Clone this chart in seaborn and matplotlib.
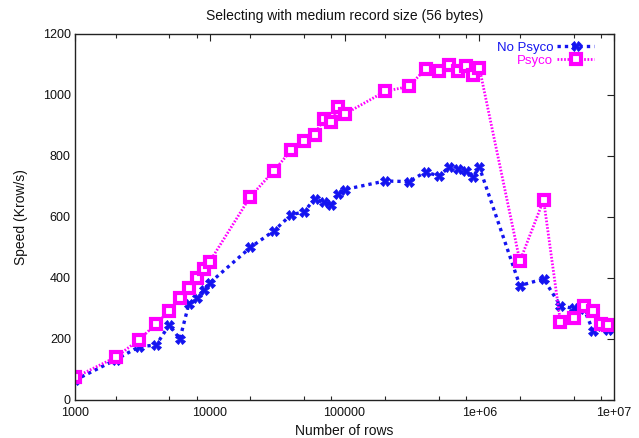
import numpy as np
import pandas as pd
import matplotlib
matplotlib.use("Agg")
import matplotlib.pyplot as plt
import matplotlib.ticker as mticker
import seaborn as sns

rows = [1000, 2000, 3000, 4000, 5000, 6000, 7000, 8000, 9000,
        10000, 20000, 30000, 40000, 50000, 60000, 70000, 80000, 90000,
        100000, 200000, 300000, 400000, 500000, 600000, 700000, 800000, 900000,
        1000000, 2000000, 3000000, 4000000, 5000000, 6000000, 7000000, 8000000, 9000000]

no_psyco = [65, 132, 175, 180, 246, 200, 316, 333, 360,
            384, 500, 555, 607, 617, 659, 648, 640, 676,
            690, 718, 716, 748, 734, 764, 756, 752, 732,
            764, 375, 397, 309, 300, 297, 226, 244, 228]

psyco = [74, 140, 198, 250, 293, 333, 368, 400, 428,
         454, 667, 752, 818, 848, 870, 921, 912, 959,
         937, 1012, 1028, 1086, 1078, 1098, 1080, 1094, 1066,
         1090, 455, 656, 255, 269, 307, 291, 250, 245]

title = "Selecting with medium record size (56 bytes)"
xlabel = "Number of rows"
ylabel = "Speed (Krow/s)"
series_names = ["No Psyco", "Psyco"]
colors = ["#1414f0", "#ff00ff"]

df = pd.DataFrame({"rows": rows, "No Psyco": no_psyco, "Psyco": psyco})

sns.set_style("white")
plt.rcParams["font.family"] = ["Liberation Sans", "DejaVu Sans"]
plt.rcParams["font.size"] = 9

fig = plt.figure(figsize=(6.39, 4.38), dpi=100)
ax = fig.add_axes([0.1174, 0.0868, 0.961 - 0.1174, 0.9224 - 0.0868])

sns.lineplot(data=df, x="rows", y="No Psyco", ax=ax, color=colors[0],
             linestyle=(0, (1, 1.2)), linewidth=2.4, marker="X", markersize=7,
             markeredgewidth=0.6, markeredgecolor=colors[0], label=series_names[0],
             legend=False)
sns.lineplot(data=df, x="rows", y="Psyco", ax=ax, color=colors[1],
             linestyle=(0, (0.6, 0.6)), linewidth=2.0, marker="s", markersize=6.5,
             markerfacecolor="white", markeredgewidth=3.0, markeredgecolor=colors[1],
             label=series_names[1], legend=False)

ax.set_xscale("log")
ax.set_xlim(1000, 1e7)
ax.set_ylim(0, 1200)
ax.set_yticks(np.arange(0, 1201, 200))
ax.xaxis.set_minor_locator(mticker.LogLocator(base=10, subs=[2, 5, 8], numticks=20))
ax.xaxis.set_minor_formatter(mticker.NullFormatter())
ax.set_xticks([1e3, 1e4, 1e5, 1e6, 1e7])
ax.set_xticklabels(["1000", "10000", "100000", "1e+06", "1e+07"])

for s in ax.spines.values():
    s.set_visible(True)
    s.set_color("#222222")
    s.set_linewidth(1.0)

ax.tick_params(axis="both", which="major", direction="in", length=5, width=0.8,
               top=True, right=True, labelsize=9, colors="#222222")
ax.tick_params(axis="x", which="major", pad=5)
ax.tick_params(axis="y", which="major", pad=3)
ax.tick_params(axis="x", which="minor", direction="in", length=3, width=0.8,
               top=True, bottom=True)
ax.tick_params(axis="both", labelcolor="#111111")

ax.set_title(title, fontsize=10, pad=10, color="#111111")
ax.set_xlabel(xlabel, fontsize=10, labelpad=4, color="#111111")
ax.set_ylabel(ylabel, fontsize=10, labelpad=11, color="#111111")

leg = ax.legend(loc="upper right", bbox_to_anchor=(0.98, 1.005), frameon=False,
                markerfirst=False, fontsize=9.5, handlelength=2.8, handletextpad=0.3,
                labelspacing=0.05, borderaxespad=0.3, labelcolor="linecolor",
                numpoints=1)

fig.savefig("out.png", dpi=100, facecolor="white")
